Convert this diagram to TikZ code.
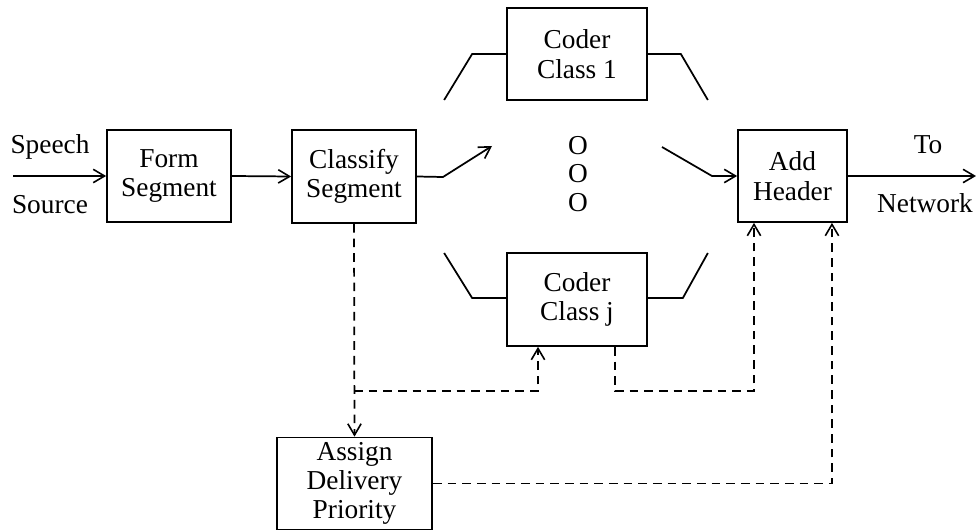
\documentclass[tikz,border=0pt]{standalone}
\usepackage{fontspec}
\setmainfont{Liberation Serif}
\usetikzlibrary{arrows.meta,calc}
\begin{document}
\begin{tikzpicture}[x=0.75pt,y=-0.75pt,
  font=\fontsize{20.5}{22}\selectfont,
  line width=1.3pt,
  >={Straight Barb[length=8.5pt,width=10pt,line width=1.2pt]},
  blk/.style={draw,rectangle,inner sep=0pt,align=center},
  dsh/.style={dash pattern=on 6.5pt off 4.5pt},
  lbl/.style={inner sep=0pt,anchor=center}]
\useasboundingbox (0,0) rectangle (976,531);

% processing blocks
\node[blk,minimum width=93pt,minimum height=69pt]    (form)     at (169,176)   {Form\\Segment};
\node[blk,minimum width=93pt,minimum height=69.75pt] (classify) at (354,176.5) {Classify\\Segment};
\node[blk,minimum width=105pt,minimum height=69pt]   (coder1)   at (577,54)    {Coder\\Class 1};
\node[blk,minimum width=105pt,minimum height=69.75pt](coderj)   at (577,299.5) {Coder\\Class j};
\node[blk,minimum width=81.75pt,minimum height=69pt] (header)   at (792.5,176) {Add\\Header};
\node[blk,minimum width=116.25pt,minimum height=69pt](assign)   at (354.5,483.5) {Assign\\Delivery\\Priority};

% side labels
\node[lbl] (speech)  at (50,147)  {Speech};
\node[lbl] (source)  at (50,205)  {Source};
\node[lbl] (to)      at (928,145) {To};
\node[lbl] (network) at (925,203) {Network};

% ellipsis between the coder classes
\node[lbl] (o1) at (578,146) {O};
\node[lbl] (o2) at (578,174) {O};
\node[lbl] (o3) at (578,203) {O};

% free ends of connectors
\coordinate (in)   at (13,176);
\coordinate (out)  at (976,176);
\coordinate (sw1)  at (443,177);
\coordinate (sw2)  at (492,146);
\coordinate (mg1)  at (662,147);
\coordinate (mg2)  at (712,176);

% main signal path
\draw[->] (in) -- (form.west);
\draw[->] (form.east) -- (classify.west);
\draw[->] (classify.east) -- (sw1) -- (sw2);
\draw[->] (mg1) -- (mg2) -- (header.west);
\draw[->] (header.east) -- (out);

% flanges on the coder blocks
\draw (coder1.west) -- ++(-34,0) -- ++(-28,46);
\draw (coder1.east) -- ++(33,0) -- ++(27,46);
\draw (coderj.west) ++(0,-1.5) -- ++(-34,0) -- ++(-28,-45);
\draw (coderj.east) ++(0,-1.5) -- ++(35,0) -- ++(25,-45);

% control (dashed) paths
\coordinate (br) at (354,391);
\draw[dsh,->] (classify.south) -- (assign.north);
\draw[dsh,->] (br) -| ([xshift=-29.25pt]coderj.south);
\draw[dsh,->] ([xshift=28.5pt]coderj.south) |- ($(br)+(400,0)$) -- ([xshift=-28.875pt]header.south);
\draw[dsh,->] (assign.east) -| ([xshift=29.6pt]header.south);
\end{tikzpicture}
\end{document}
